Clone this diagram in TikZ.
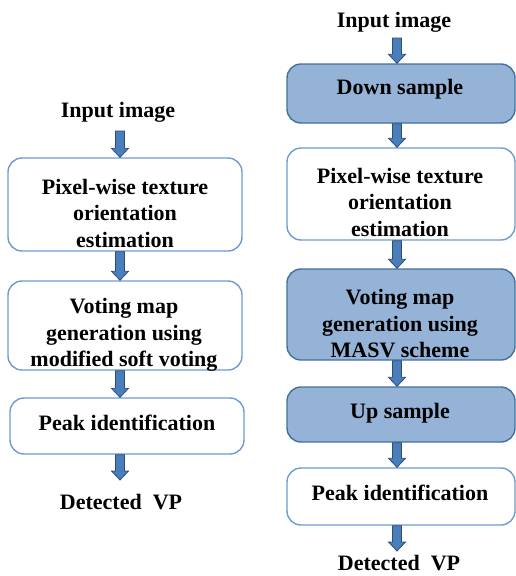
\documentclass[tikz,border=0pt]{standalone}
\usepackage{fontspec}
\setmainfont{Liberation Serif}
\usetikzlibrary{calc}
\definecolor{boxline}{HTML}{6C9BD2}
\definecolor{fillblue}{HTML}{95B3D7}
\definecolor{darkline}{HTML}{41719C}
\definecolor{arrowfill}{HTML}{4A7EBB}
\definecolor{arrowline}{HTML}{2C4D75}
\begin{document}
\begin{tikzpicture}[x=1pt,y=-1pt,
  lbl/.style={font=\fontsize{22}{26.5}\selectfont\bfseries, align=center, inner sep=0pt},
  plainbox/.style={draw=boxline, line width=1.4pt, fill=white, rounded corners=14pt, inner sep=0pt},
  shadedbox/.style={draw=darkline, line width=1.4pt, fill=fillblue, rounded corners=14pt, inner sep=0pt},
  blockarrow/.style={draw=arrowline, fill=arrowfill, line width=0.8pt, line join=miter,
    to path={let \p1=(\tikztostart), \p2=(\tikztotarget) in
      (\x1-4.5pt,\y1) -- (\x1+4.5pt,\y1) -- (\x1+4.5pt,\y2+9pt) -- (\x1+8.5pt,\y2+9pt)
      -- (\x1,\y2) -- (\x1-8.5pt,\y2+9pt) -- (\x1-4.5pt,\y2+9pt) -- cycle}}]
\useasboundingbox (0,0) rectangle (516,576);

% ---------- left pipeline ----------
\coordinate (axL) at (120,0);
\node[lbl] (inL) at (118,112) {Input image};
\node[plainbox, minimum width=234pt, minimum height=93pt] (L1) at (125,204.5) {};
\node[plainbox, minimum width=234pt, minimum height=89pt] (L2) at (125,325.5) {};
\node[plainbox, minimum width=234pt, minimum height=56pt] (L3) at (127,426) {};
\node[lbl] (tL1) at (125,213) {Pixel-wise texture\\orientation\\estimation};
\node[lbl] (tL2) at (124,335) {Voting map\\generation using\\modified soft voting};
\node[lbl] (tL3) at (127,423) {Peak identification};
\node[lbl] (outL) at (121,502) {Detected\ \ VP};
\coordinate (sL) at (120,131);
\coordinate (eL) at (120,480);

\draw[blockarrow] (sL) to (L1.north -| axL);
\draw[blockarrow] (L1.south -| axL) to (L2.north -| axL);
\draw[blockarrow] (L2.south -| axL) to (L3.north -| axL);
\draw[blockarrow] (L3.south -| axL) to (eL);

% ---------- right pipeline ----------
\coordinate (axR) at (397,0);
\node[lbl] (inR) at (394,22) {Input image};
\node[shadedbox, minimum width=228pt, minimum height=59pt] (R1) at (401,93.5) {};
\node[plainbox, minimum width=228pt, minimum height=92pt] (R2) at (401,194) {};
\node[shadedbox, minimum width=228pt, minimum height=91pt] (R3) at (401,314.5) {};
\node[shadedbox, minimum width=228pt, minimum height=55pt] (R4) at (401,414.5) {};
\node[plainbox, minimum width=228pt, minimum height=57pt] (R5) at (401,496.5) {};
\node[lbl] (tR1) at (400,89) {Down sample};
\node[lbl] (tR2) at (400,202) {Pixel-wise texture\\orientation\\estimation};
\node[lbl] (tR3) at (400,324) {Voting map\\generation using\\MASV scheme};
\node[lbl] (tR4) at (400,413) {Up sample};
\node[lbl] (tR5) at (400,493) {Peak identification};
\node[lbl] (outR) at (399,563) {Detected\ \ VP};
\coordinate (sR) at (397,38);
\coordinate (eR) at (397,551);

\draw[blockarrow] (sR) to (R1.north -| axR);
\draw[blockarrow] (R1.south -| axR) to (R2.north -| axR);
\draw[blockarrow] (R2.south -| axR) to (R3.north -| axR);
\draw[blockarrow] (R3.south -| axR) to (R4.north -| axR);
\draw[blockarrow] (R4.south -| axR) to (R5.north -| axR);
\draw[blockarrow] (R5.south -| axR) to (eR);
\end{tikzpicture}
\end{document}
